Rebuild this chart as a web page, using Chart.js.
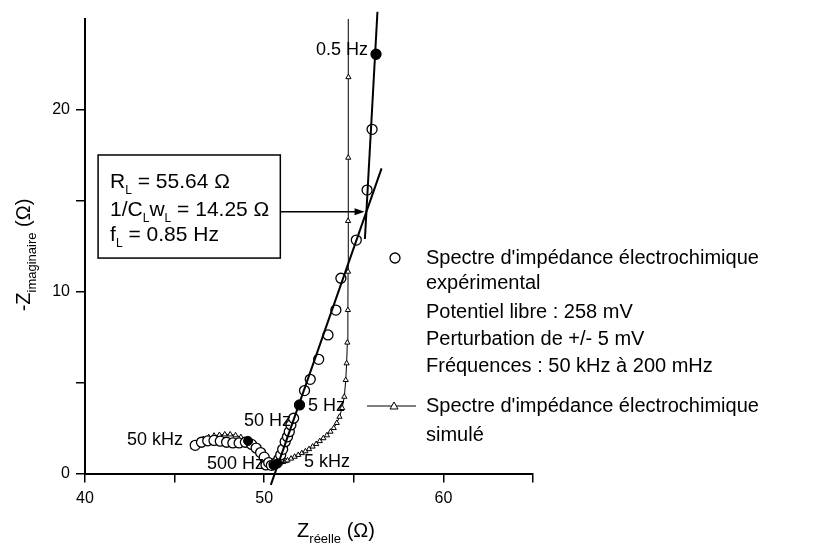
<!DOCTYPE html>
<html>
<head>
<meta charset="utf-8">
<script src="https://cdn.jsdelivr.net/npm/chart.js@4.4.1/dist/chart.umd.min.js"></script>
<style>
  html, body { margin: 0; padding: 0; background: #fff; }
  #wrap { width: 822px; height: 545px; }
</style>
</head>
<body>
<div id="wrap"><canvas id="nyquist" width="822" height="545"></canvas></div>
<script>
/* Nyquist plot: experimental vs simulated impedance spectrum. */

const FONT = '"Liberation Sans", Arial, Helvetica, sans-serif';

// axis ticks
const xTickLabels = [40, 50, 60];
const yTickLabels = [0, 10, 20];

// experimental spectrum (open circles), 50 kHz -> 0.2 Hz
const expRe = [46.15, 46.5, 46.85, 47.2, 47.55, 47.9, 48.25, 48.6, 48.95, 49.3, 49.55, 49.8, 50.0, 50.1, 50.25, 50.4,
  50.55, 50.7, 50.82, 50.92, 51.03, 51.17, 51.3, 51.4, 51.49, 51.64, 51.97, 52.25, 52.57, 53.04, 53.56, 54.0,
  54.28, 55.14, 55.74, 56.02, 56.24];
const expIm = [1.55, 1.72, 1.8, 1.82, 1.78, 1.72, 1.68, 1.68, 1.72, 1.6, 1.4, 1.15, 0.9, 0.47, 0.6, 0.45,
  0.5, 0.62, 0.8, 1.02, 1.33, 1.75, 2.02, 2.3, 2.67, 3.04, 3.77, 4.56, 5.18, 6.28, 7.62, 8.99,
  10.74, 12.84, 15.59, 18.93, 23.06];

// labelled frequencies (filled circles)
const markRe = [49.1, 50.55, 50.75, 51.97, 56.24];
const markIm = [1.79, 0.45, 0.55, 3.77, 23.06];

// simulated spectrum (triangles)
const simRe = [46.05, 46.3, 46.6, 46.9, 47.2, 47.5, 47.8, 48.1, 48.4, 48.7, 49.0, 49.3, 49.55, 49.8, 50.05, 50.3,
  50.45, 50.6, 50.75, 50.9, 51.05, 51.2, 51.3, 51.5, 51.7, 51.9, 52.1, 52.3, 52.5, 52.7, 52.9, 53.1, 53.3,
  53.5, 53.7, 53.88, 54.05, 54.2, 54.35, 54.47, 54.55, 54.6, 54.64, 54.67, 54.68, 54.68, 54.69, 54.7, 54.7];
const simIm = [1.45, 1.7, 1.9, 2.0, 2.08, 2.12, 2.15, 2.15, 2.1, 2.0, 1.85, 1.65, 1.4, 1.15, 0.9, 0.72,
  0.62, 0.58, 0.58, 0.6, 0.63, 0.68, 0.72, 0.82, 0.92, 1.02, 1.12, 1.22, 1.34, 1.48, 1.62, 1.78, 1.94,
  2.1, 2.3, 2.5, 2.78, 3.12, 3.6, 4.22, 5.14, 6.06, 7.2, 8.99, 11.1, 13.89, 17.37, 21.8, 26.5];

// fitted straight lines
const fitLowRe = [55.62, 56.32];
const fitLowIm = [12.9, 25.4];
const fitMidRe = [50.37, 56.55];
const fitMidIm = [-0.63, 16.78];

// frequency labels
const freqText = ['0.5 Hz', '5 Hz', '50 Hz', '50 kHz', '500 Hz', '5 kHz'];
const freqRe = [52.89, 52.44, 48.87, 42.34, 46.81, 52.22];
const freqIm = [23.29, 3.71, 2.89, 1.84, 0.52, 0.63];

// result box (data coords) and arrow target
const boxRe = [40.73, 50.9];
const boxIm = [17.52, 11.85];
const arrowIm = 14.4;
const arrowRe = 55.6;

const pts = (xs, ys) => xs.map((x, i) => ({ x, y: ys[i] }));

function drawRich(ctx, parts, x, y, size, subSize, subDy) {
  let cx = x;
  for (const p of parts) {
    ctx.font = (p.sub ? subSize : size) + 'px ' + FONT;
    ctx.fillText(p.t, cx, y + (p.sub ? subDy : 0));
    cx += ctx.measureText(p.t).width;
  }
  return cx - x;
}
function richWidth(ctx, parts, size, subSize) {
  let w = 0;
  for (const p of parts) {
    ctx.font = (p.sub ? subSize : size) + 'px ' + FONT;
    w += ctx.measureText(p.t).width;
  }
  return w;
}

const annotate = {
  id: 'annotate',
  afterDatasetsDraw(chart) {
    const { ctx, scales: { x, y } } = chart;
    ctx.save();
    ctx.fillStyle = '#000';
    ctx.strokeStyle = '#000';
    ctx.textBaseline = 'middle';
    ctx.textAlign = 'left';

    // frequency labels
    ctx.font = '18px ' + FONT;
    freqText.forEach((t, i) => ctx.fillText(t, x.getPixelForValue(freqRe[i]), y.getPixelForValue(freqIm[i])));

    // result box
    const bl = x.getPixelForValue(boxRe[0]), br = x.getPixelForValue(boxRe[1]);
    const bt = y.getPixelForValue(boxIm[0]), bb = y.getPixelForValue(boxIm[1]);
    ctx.lineWidth = 1.5;
    ctx.strokeRect(bl, bt, br - bl, bb - bt);
    ctx.textBaseline = 'alphabetic';
    drawRich(ctx, [{ t: 'R' }, { t: 'L', sub: true }, { t: ' = 55.64 Ω' }], bl + 12, bt + 33, 21, 12, 6);
    drawRich(ctx, [{ t: '1/C' }, { t: 'L', sub: true }, { t: 'w' }, { t: 'L', sub: true }, { t: ' = 14.25 Ω' }], bl + 12, bt + 61, 21, 12, 6);
    drawRich(ctx, [{ t: 'f' }, { t: 'L', sub: true }, { t: ' = 0.85 Hz' }], bl + 12, bt + 86, 21, 12, 6);

    // arrow to the intersection of the fitted lines
    const ay = y.getPixelForValue(arrowIm), ax = x.getPixelForValue(arrowRe);
    ctx.lineWidth = 1.5;
    ctx.beginPath(); ctx.moveTo(br, ay); ctx.lineTo(ax - 8, ay); ctx.stroke();
    ctx.beginPath(); ctx.moveTo(ax, ay); ctx.lineTo(ax - 10, ay - 3.5); ctx.lineTo(ax - 10, ay + 3.5); ctx.closePath(); ctx.fill();

    // legend
    ctx.textBaseline = 'middle';
    ctx.font = '20px ' + FONT;
    ctx.lineWidth = 1.3;
    ctx.beginPath(); ctx.arc(395, 258, 5, 0, Math.PI * 2); ctx.stroke();
    const legLines = [["Spectre d'impédance électrochimique", 258], ['expérimental', 283], ['Potentiel libre : 258 mV', 312],
      ['Perturbation de +/- 5 mV', 339], ['Fréquences : 50 kHz à 200 mHz', 366],
      ["Spectre d'impédance électrochimique", 406], ['simulé', 435]];
    legLines.forEach(([t, ly]) => ctx.fillText(t, 426, ly));
    ctx.lineWidth = 1;
    ctx.beginPath(); ctx.moveTo(367, 406); ctx.lineTo(416, 406); ctx.stroke();
    ctx.fillStyle = '#fff';
    ctx.beginPath(); ctx.moveTo(394, 402); ctx.lineTo(398, 409); ctx.lineTo(390, 409); ctx.closePath(); ctx.fill(); ctx.stroke();
    ctx.fillStyle = '#000';

    // axis titles
    ctx.textBaseline = 'alphabetic';
    const xt = [{ t: 'Z' }, { t: 'réelle', sub: true }, { t: ' (Ω)' }];
    const xw = richWidth(ctx, xt, 20, 13);
    drawRich(ctx, xt, 336 - xw / 2, 537, 20, 13, 6);

    const yt = [{ t: '-Z' }, { t: 'imaginaire', sub: true }, { t: ' (Ω)' }];
    const yw = richWidth(ctx, yt, 20, 13);
    ctx.translate(30, 255);
    ctx.rotate(-Math.PI / 2);
    drawRich(ctx, yt, -yw / 2, 0, 20, 13, 6);
    ctx.restore();
  }
};

const axisGrid = (hideVal) => ({
  drawOnChartArea: false, drawTicks: true, tickLength: 9, lineWidth: 1.5,
  color: (c) => (c.tick && c.tick.value === hideVal ? 'rgba(0,0,0,0)' : '#000'),
});

new Chart(document.getElementById('nyquist'), {
  type: 'scatter',
  data: {
    datasets: [
      { data: pts(fitLowRe, fitLowIm), showLine: true, borderColor: '#000', borderWidth: 2, pointRadius: 0, clip: false, order: 0 },
      { data: pts(fitMidRe, fitMidIm), showLine: true, borderColor: '#000', borderWidth: 2, pointRadius: 0, clip: false, order: 0 },
      { data: pts(markRe, markIm), pointStyle: 'circle', pointRadius: 4.5, backgroundColor: '#000', borderColor: '#000', borderWidth: 1, order: 1 },
      { data: pts(expRe, expIm), pointStyle: 'circle', pointRadius: 5, backgroundColor: '#fff', borderColor: '#000', borderWidth: 1.3, order: 2 },
      { data: pts(simRe, simIm), showLine: true, pointStyle: 'triangle', pointRadius: 3, backgroundColor: '#fff', borderColor: '#000', borderWidth: 1, order: 3 },
    ],
  },
  options: {
    responsive: false, animation: false, devicePixelRatio: 1,
    layout: { padding: { left: 0, top: 19, right: 289, bottom: 0 } },
    plugins: { legend: { display: false }, tooltip: { enabled: false } },
    scales: {
      x: {
        type: 'linear', min: 40, max: 65,
        afterFit: (s) => { s.height = 71.5; },
        ticks: { stepSize: 5, autoSkip: false, maxRotation: 0, padding: 6, color: '#000', font: { size: 16, family: FONT },
          callback: (v) => (xTickLabels.includes(v) ? String(v) : '') },
        grid: axisGrid(null),
        border: { display: true, color: '#000', width: 2 },
      },
      y: {
        type: 'linear', min: 0, max: 25,
        afterFit: (s) => { s.width = 85; },
        ticks: { stepSize: 5, autoSkip: false, padding: 6, color: '#000', font: { size: 16, family: FONT },
          callback: (v) => (yTickLabels.includes(v) ? String(v) : '') },
        grid: axisGrid(25),
        border: { display: true, color: '#000', width: 2 },
      },
    },
  },
  plugins: [annotate],
});
</script>
</body>
</html>
